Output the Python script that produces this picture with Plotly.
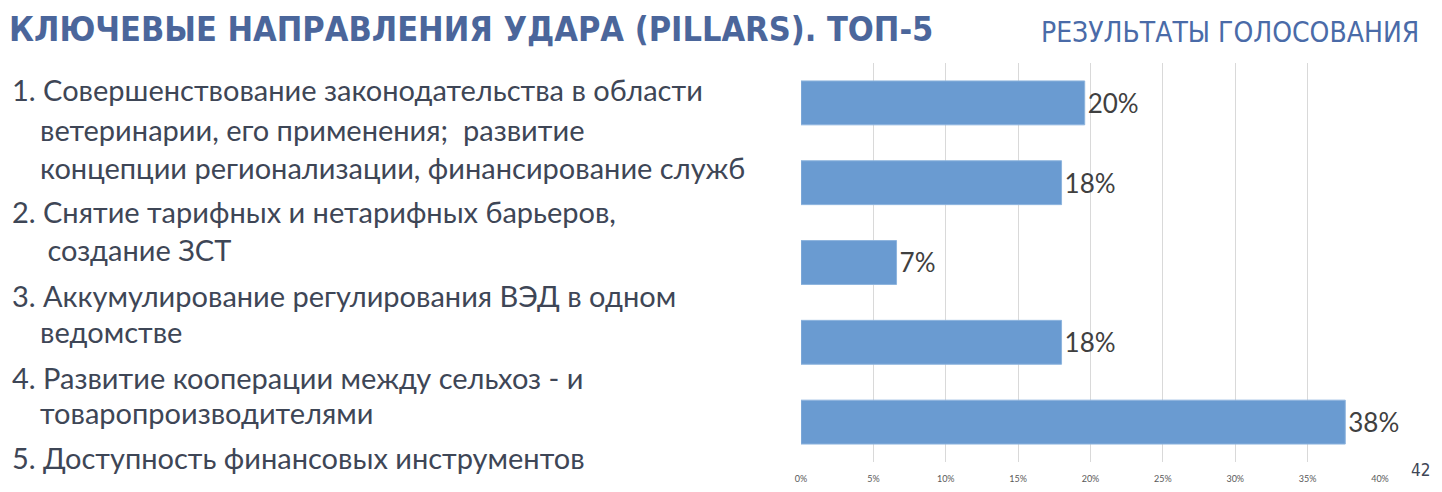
import plotly.graph_objects as go

# Page body has an 8px margin in the browser; lay the figure out in screen pixels
OFF = 8
SW, SH = 1442, 492
W, H = SW - OFF, SH - OFF

categories = ["1", "2", "3", "4", "5"]
values = [0.196, 0.180, 0.066, 0.180, 0.376]
value_labels = ["20%", "18%", "7%", "18%", "38%"]
tick_vals = [0, 0.05, 0.10, 0.15, 0.20, 0.25, 0.30, 0.35, 0.40]
tick_text = ["0%", "5%", "10%", "15%", "20%", "25%", "30%", "35%", "40%"]

title_text = "КЛЮЧЕВЫЕ НАПРАВЛЕНИЯ УДАРА (PILLARS). ТОП-5"
subtitle_text = "РЕЗУЛЬТАТЫ ГОЛОСОВАНИЯ"
page_number = "42"

item_lines = [
    ["1. Совершенствование законодательства в области",
     "ветеринарии, его применения;  развитие",
     "концепции регионализации, финансирование служб"],
    ["2. Снятие тарифных и нетарифных барьеров,",
     " создание ЗСТ"],
    ["3. Аккумулирование регулирования ВЭД в одном",
     "ведомстве"],
    ["4. Развитие кооперации между сельхоз - и",
     "товаропроизводителями"],
    ["5. Доступность финансовых инструментов"],
]
line_y_px = [[89, 129, 167], [211, 249], [295, 331], [377, 412], [457]]

BAR_COLOR = "#6a9bd1"
TEXT_DARK = "#3e4656"
TITLE_COLOR = "#4b669b"
SUB_COLOR = "#4a6ba8"
BODY_FONT = "Lato, Open Sans, sans-serif"
NARROW = "Liberation Sans Narrow, DejaVu Sans Condensed, sans-serif"

x0_px, x1_px = 801, 1380
yt_px, yb_px = 63, 462


def px(x):
    return (x - OFF) / W


def py(y):
    return 1 - (y - OFF) / H


fig = go.Figure()
fig.add_trace(go.Bar(
    y=categories, x=values, orientation="h",
    marker=dict(color=BAR_COLOR, line=dict(color="#8db4de", width=1)),
    width=0.55,
    text=value_labels, textposition="outside", cliponaxis=False,
    textfont=dict(family=BODY_FONT, size=26, color="#404040"),
    hoverinfo="skip",
))

annotations = []
for lines, ys in zip(item_lines, line_y_px):
    for i, (ln, yy) in enumerate(zip(lines, ys)):
        xx = 10 if i == 0 else 38
        annotations.append(dict(
            x=px(xx), y=py(yy), xref="paper", yref="paper",
            xanchor="left", yanchor="middle", showarrow=False,
            text=ln, font=dict(family=BODY_FONT, size=29, color=TEXT_DARK),
        ))

annotations.append(dict(
    x=px(8), y=py(OFF), xref="paper", yref="paper", xanchor="left", yanchor="top",
    showarrow=False, text="<b>" + title_text + "</b>", borderpad=0,
    font=dict(family=NARROW, size=34, color=TITLE_COLOR)))
annotations.append(dict(
    x=px(1421), y=py(33), xref="paper", yref="paper", xanchor="right", yanchor="middle",
    showarrow=False, text=subtitle_text,
    font=dict(family=NARROW, size=28, color=SUB_COLOR)))
annotations.append(dict(
    x=px(1432), y=py(470), xref="paper", yref="paper", xanchor="right", yanchor="middle",
    showarrow=False, text=page_number,
    font=dict(family=NARROW, size=17, color="#3e4656")))

fig.update_layout(
    width=W, height=H,
    margin=dict(l=0, r=0, t=0, b=0),
    paper_bgcolor="white", plot_bgcolor="white",
    showlegend=False,
    annotations=annotations,
    xaxis=dict(
        domain=[px(x0_px), px(x1_px)], range=[0, 0.40],
        tickvals=tick_vals, ticktext=tick_text,
        showgrid=True, gridcolor="#d9d9d9", gridwidth=1,
        zeroline=False, showline=False, ticks="",
        tickfont=dict(family=BODY_FONT, size=9, color="#595959"),
        ticklabelstandoff=10, automargin=False,
    ),
    yaxis=dict(
        domain=[py(yb_px), py(yt_px)],
        categoryorder="array", categoryarray=categories[::-1],
        showticklabels=False, showgrid=False, zeroline=False, showline=False,
        automargin=False,
    ),
)

fig.write_html("out.html")
